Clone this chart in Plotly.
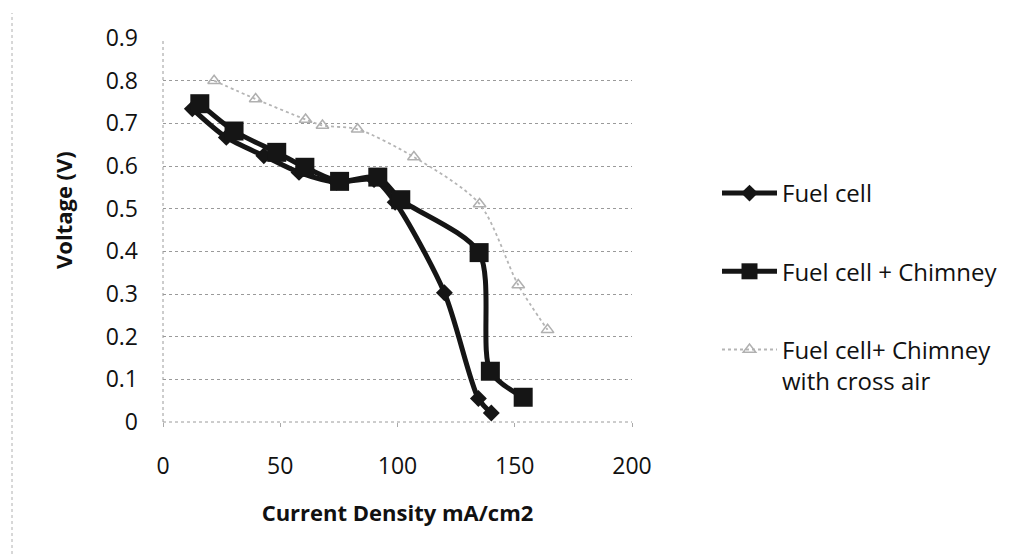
import plotly.graph_objects as go

# ---- data ----
fc_x = [12.5, 27, 43, 58, 74, 90, 99, 120, 134.5, 140]
fc_y = [0.734, 0.667, 0.624, 0.585, 0.562, 0.568, 0.515, 0.303, 0.055, 0.021]

ch_x = [15.7, 30.3, 48.5, 60.5, 75.3, 91.6, 101.4, 134.8, 139.6, 153.6]
ch_y = [0.746, 0.682, 0.632, 0.597, 0.564, 0.574, 0.521, 0.397, 0.119, 0.058]

ca_x = [21.8, 39.5, 60.8, 68, 83, 107, 135, 151.5, 164]
ca_y = [0.800, 0.757, 0.709, 0.695, 0.686, 0.621, 0.511, 0.321, 0.216]

names = ["Fuel cell", "Fuel cell + Chimney", "Fuel cell+ Chimney<br>with cross air"]
x_ticks = [0, 50, 100, 150, 200]
y_ticks = [0, 0.1, 0.2, 0.3, 0.4, 0.5, 0.6, 0.7, 0.8, 0.9]
y_tick_text = ["0", "0.1", "0.2", "0.3", "0.4", "0.5", "0.6", "0.7", "0.8", "0.9"]

FONT = "Open Sans"

fig = go.Figure()
fig.add_trace(go.Scatter(
    x=fc_x, y=fc_y, name=names[0], mode="lines+markers", legendgroup="a",
    line=dict(color="#151515", width=5, shape="spline", smoothing=0.8),
    marker=dict(symbol="diamond", size=13, color="#151515"),
))
fig.add_trace(go.Scatter(
    x=ch_x, y=ch_y, name=names[1], mode="lines+markers", legendgroup="b",
    line=dict(color="#151515", width=5, shape="spline", smoothing=0.8),
    marker=dict(symbol="square", size=19, color="#151515"),
))
fig.add_trace(go.Scatter(
    x=ca_x, y=ca_y, name=names[2], mode="lines+markers", legendgroup="c",
    line=dict(color="#b5b5b5", width=1.8, shape="spline", smoothing=0.8, dash="dot"),
    marker=dict(symbol="triangle-up-open", size=11, color="#b0b0b0",
                line=dict(width=1.5, color="#b0b0b0")),
))

fig.update_layout(
    width=1013, height=554,
    margin=dict(l=163, r=381, t=38, b=132),
    paper_bgcolor="white", plot_bgcolor="white",
    font=dict(family=FONT, size=23, color="#111"),
    showlegend=True,
    legend=dict(
        xref="container", yref="container",
        x=717 / 1013, y=1 - 171 / 554, xanchor="left", yanchor="top",
        itemwidth=55, tracegroupgap=44, valign="top",
        font=dict(family=FONT, size=24, color="#111"),
        bgcolor="rgba(0,0,0,0)",
    ),
    xaxis=dict(
        range=[0, 200], tickvals=x_ticks, showgrid=False, zeroline=False,
        showline=False, ticks="outside", ticklen=4, tickcolor="#aaa",
        ticklabelstandoff=19, tickfont=dict(size=23),
        title=dict(text="<b>Current Density mA/cm2</b>", standoff=26,
                   font=dict(family=FONT, size=22)),
    ),
    yaxis=dict(
        range=[0, 0.9], tickvals=y_ticks, ticktext=y_tick_text,
        showgrid=True, gridcolor="#9a9a9a", griddash="dot", gridwidth=1,
        zeroline=False, showline=False, ticklabelstandoff=24, tickfont=dict(size=23),
    ),
    shapes=[
        dict(type="line", xref="x domain", yref="y domain", x0=0, x1=0, y0=0, y1=1,
             line=dict(color="#9a9a9a", width=1, dash="dot")),
        dict(type="line", xref="x domain", yref="y domain", x0=0, x1=1, y0=0, y1=0,
             line=dict(color="#9a9a9a", width=1, dash="dot")),
        dict(type="line", xref="paper", yref="paper", x0=-151 / 469, x1=-151 / 469,
             y0=-132 / 384, y1=(422 - 13) / 384,
             line=dict(color="#b0b0b0", width=1, dash="dot")),
    ],
    annotations=[
        dict(text="<b>Voltage (V)</b>", textangle=-90, xref="paper", yref="paper",
             x=-100 / 469, y=(422 - 210) / 384, xanchor="center", yanchor="middle",
             showarrow=False, font=dict(family=FONT, size=22, color="#111")),
    ],
)

fig.write_html("out.html")
